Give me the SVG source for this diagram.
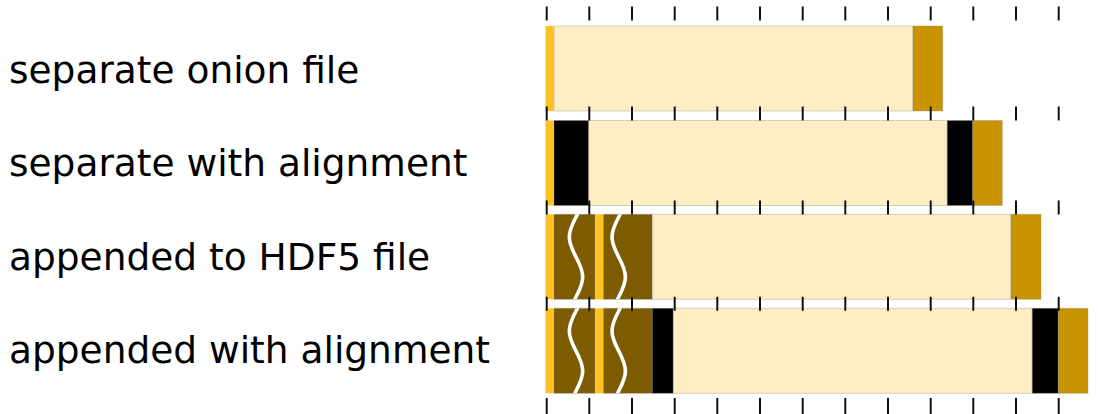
<svg xmlns="http://www.w3.org/2000/svg" width="1098" height="414" viewBox="0 0 1098 414">
<style>
text{font-family:"DejaVu Sans","Liberation Sans",sans-serif;font-size:37.5px;fill:#000}
.y{fill:#ffc125}.c{fill:#ffedc4}.g{fill:#c99400}.b{fill:#7d5b00}.k{fill:#000}
.seg{stroke:#888;stroke-opacity:.35;stroke-width:1}
.wave{fill:none;stroke:#fff;stroke-width:3.6}
.tick{stroke:#111;stroke-width:2}
</style>
<defs>
<clipPath id="wc"><rect x="-12" y="0" width="24" height="85"/></clipPath>
<path id="wv" class="wave" d="M6.7,-17.3 C6.7,-10.06 3.43,-3.82 0,2.7 C-3.43,9.22 -6.7,15.46 -6.7,22.7 C-6.7,29.94 -3.43,36.18 0,42.7 C3.43,49.22 6.7,55.46 6.7,62.7 C6.7,69.94 3.43,76.18 0,82.7 C-3.43,89.22 -6.7,95.46 -6.7,102.7"/>
</defs>
<rect width="1098" height="414" fill="#fff"/>

<g id="row1">
<text x="9" y="83">separate onion file</text>
<g class="seg">
<rect class="c" x="554" y="26" width="359" height="85"/>
<rect class="g" x="913" y="26" width="29.7" height="85"/>
<rect class="y" x="545.5" y="26" width="8.5" height="85" stroke="none"/>
</g>
</g>

<g id="row2">
<text x="9" y="176">separate with alignment</text>
<g class="seg">
<rect class="k" x="554" y="120.5" width="34.7" height="85"/>
<rect class="c" x="588.7" y="120.5" width="358.6" height="85"/>
<rect class="k" x="947.3" y="120.5" width="25.4" height="85"/>
<rect class="g" x="972.7" y="120.5" width="29.6" height="85"/>
<rect class="y" x="545.5" y="120.5" width="8.5" height="85" stroke="none"/>
</g>
</g>

<g id="row3">
<text x="9" y="269.5">appended to HDF5 file</text>
<g class="seg">
<rect class="b" x="554" y="214.3" width="41" height="85"/>
<rect class="b" x="603.3" y="214.3" width="49" height="85"/>
<rect class="c" x="652.3" y="214.3" width="358.7" height="85"/>
<rect class="g" x="1011" y="214.3" width="30" height="85"/>
<rect class="y" x="545.5" y="214.3" width="8.5" height="85" stroke="none"/>
<rect class="y" x="595" y="214.3" width="8.3" height="85" stroke="none"/>
</g>
<g transform="translate(576,214.3)"><g clip-path="url(#wc)"><use href="#wv"/></g></g>
<g transform="translate(618.7,214.3)"><g clip-path="url(#wc)"><use href="#wv"/></g></g>
</g>

<g id="row4">
<text x="9" y="363">appended with alignment</text>
<g class="seg">
<rect class="b" x="554" y="308.3" width="41" height="85"/>
<rect class="b" x="603.3" y="308.3" width="49" height="85"/>
<rect class="k" x="652.3" y="308.3" width="21" height="85"/>
<rect class="c" x="673.3" y="308.3" width="359" height="85"/>
<rect class="k" x="1032.3" y="308.3" width="26" height="85"/>
<rect class="g" x="1058.3" y="308.3" width="29.7" height="85"/>
<rect class="y" x="545.5" y="308.3" width="8.5" height="85" stroke="none"/>
<rect class="y" x="595" y="308.3" width="8.3" height="85" stroke="none"/>
</g>
<g transform="translate(576,308.3)"><g clip-path="url(#wc)"><use href="#wv"/></g></g>
<g transform="translate(618.7,308.3)"><g clip-path="url(#wc)"><use href="#wv"/></g></g>
</g>

<g id="connectors">
<g id="ticks" class="tick">
<path d="M546.7,6.5v14M589.3,6.5v14M632,6.5v14M674.7,6.5v14M717.3,6.5v14M760,6.5v14M802.7,6.5v14M845.3,6.5v14M888,6.5v14M930.7,6.5v14M973.3,6.5v14M1016,6.5v14M1058.7,6.5v14"/>
<path d="M546.7,106.5v14M589.3,106.5v14M632,106.5v14M674.7,106.5v14M717.3,106.5v14M760,106.5v14M802.7,106.5v14M845.3,106.5v14M888,106.5v14M930.7,106.5v14M973.3,106.5v14M1016,106.5v14M1058.7,106.5v14"/>
<path d="M546.7,200.5v14M589.3,200.5v14M632,200.5v14M674.7,200.5v14M717.3,200.5v14M760,200.5v14M802.7,200.5v14M845.3,200.5v14M888,200.5v14M930.7,200.5v14M973.3,200.5v14M1016,200.5v14M1058.7,200.5v14"/>
<path d="M546.7,296.7v14M589.3,296.7v14M632,296.7v14M674.7,296.7v14M717.3,296.7v14M760,296.7v14M802.7,296.7v14M845.3,296.7v14M888,296.7v14M930.7,296.7v14M973.3,296.7v14M1016,296.7v14M1058.7,296.7v14"/>
<path d="M546.7,398v16M589.3,398v16M632,398v16M674.7,398v16M717.3,398v16M760,398v16M802.7,398v16M845.3,398v16M888,398v16M930.7,398v16M973.3,398v16M1016,398v16M1058.7,398v16"/>
</g>
</g>
</svg>
